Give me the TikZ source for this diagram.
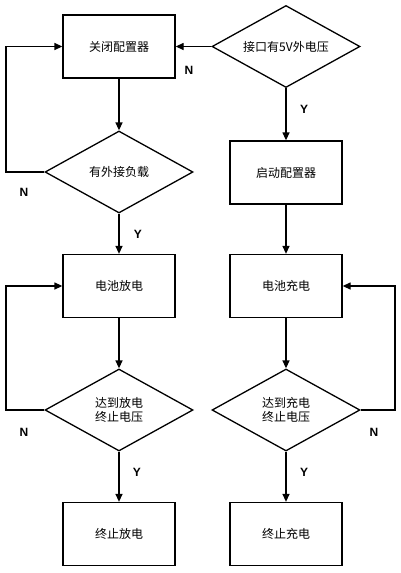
\documentclass[tikz,border=0pt]{standalone}
\usepackage{fontspec}
\setmainfont{Noto Sans CJK SC}
\newfontfamily\lblfont{Liberation Sans}
\usetikzlibrary{shapes.geometric,arrows.meta}
\begin{document}
\begin{tikzpicture}[x=1pt,y=-1pt,
  every node/.style={font=\fontsize{12}{14.5}\selectfont},
  proc/.style={draw,line width=1.3pt,minimum width=112pt,minimum height=63pt,inner sep=0pt},
  dec/.style={draw,line width=1.3pt,diamond,minimum width=148pt,minimum height=82pt,inner sep=0pt,aspect=1.8,align=center},
  arr/.style={line width=1.3pt,-{Triangle[length=8pt,width=7pt]}},
  lbl/.style={font=\lblfont\bfseries\fontsize{12}{14}\selectfont}]
\fill[white] (0,0) rectangle (401,573);
\useasboundingbox (0,0) rectangle (401,573);
\node[proc] (close) at (119,46.5) {关闭配置器};
\node[dec] (ext) at (286,46.5) {接口有5V外电压};
\node[dec] (load) at (119,172) {有外接负载};
\node[proc] (start) at (286,172.5) {启动配置器};
\node[proc] (dis) at (119,286) {电池放电};
\node[proc] (chg) at (286,286) {电池充电};
\node[dec] (disend) at (119,410) {达到放电\\终止电压};
\node[dec] (chgend) at (286,410) {达到充电\\终止电压};
\node[proc] (stopdis) at (119,534) {终止放电};
\node[proc] (stopchg) at (286,534) {终止充电};
\coordinate (l1) at (6,172);
\coordinate (l2) at (6,410);
\coordinate (r2) at (395,410);
\draw[arr] (ext.west) -- (close.east);
\draw[arr] (ext.south) -- (start.north);
\draw[arr] (close.south) -- (load.north);
\draw[arr] (load.west) -- (l1) |- (close.west);
\draw[arr] (load.south) -- (dis.north);
\draw[arr] (start.south) -- (chg.north);
\draw[arr] (dis.south) -- (disend.north);
\draw[arr] (chg.south) -- (chgend.north);
\draw[arr] (disend.west) -- (l2) |- (dis.west);
\draw[arr] (chgend.east) -- (r2) |- (chg.east);
\draw[arr] (disend.south) -- (stopdis.north);
\draw[arr] (chgend.south) -- (stopchg.north);
\node[lbl] (n1) at (189,70) {N};
\node[lbl] (y1) at (304,109) {Y};
\node[lbl] (n2) at (24,192) {N};
\node[lbl] (y2) at (138,234) {Y};
\node[lbl] (n3) at (24,432) {N};
\node[lbl] (y3) at (137,472) {Y};
\node[lbl] (n4) at (374,432) {N};
\node[lbl] (y4) at (304,472) {Y};
\end{tikzpicture}
\end{document}
